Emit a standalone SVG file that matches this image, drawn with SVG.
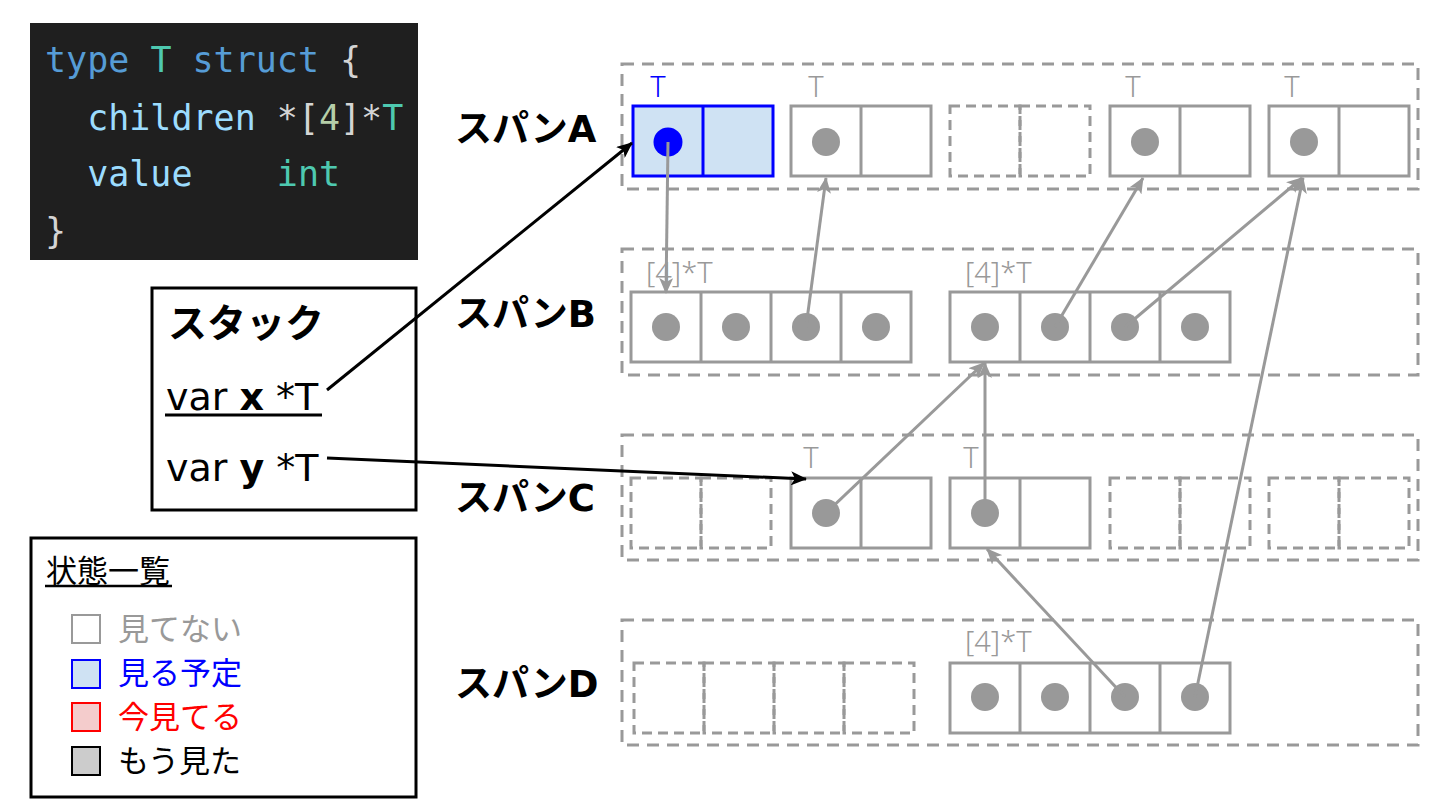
<svg xmlns="http://www.w3.org/2000/svg" width="1440" height="810" viewBox="0 0 1440 810">
<defs>
<style>
.code{font-family:"DejaVu Sans Mono","Liberation Mono",monospace;font-size:35px;white-space:pre}
.kw{fill:#569cd6}.ty{fill:#4ec9b0}.id{fill:#9cdcfe}.pn{fill:#d4d4d4}.nm{fill:#b5cea8}
.span{fill:none;stroke:#999;stroke-width:3;stroke-dasharray:12 8}
.cell{fill:#fff;stroke:#999;stroke-width:3}
.ecell{fill:none;stroke:#999;stroke-width:3;stroke-dasharray:10 6}
.dot{fill:#999}
.lbl{font-family:"Noto Sans","DejaVu Sans",sans-serif;font-weight:300;font-size:29px;fill:#999}
.sl{font-family:"DejaVu Sans","Noto Sans CJK JP",sans-serif;font-weight:bold;font-size:37px;fill:#000}
.st{font-family:"DejaVu Sans","Noto Sans CJK JP",sans-serif;font-size:38px;fill:#000}
.lg{font-family:"Noto Sans CJK JP",sans-serif;font-size:31px}
.ga{fill:none;stroke:#999;stroke-width:3;marker-end:url(#ag)}
.ba{fill:none;stroke:#000;stroke-width:3;marker-end:url(#ab)}
</style>
<marker id="ag" viewBox="0 0 16 14" refX="15" refY="7" markerWidth="16" markerHeight="14" markerUnits="userSpaceOnUse" orient="auto"><path d="M0,0 L16,7 L0,14 L4,7 z" fill="#999"/></marker>
<marker id="ab" viewBox="0 0 16 14" refX="15" refY="7" markerWidth="16" markerHeight="14" markerUnits="userSpaceOnUse" orient="auto"><path d="M0,0 L16,7 L0,14 L4,7 z" fill="#000"/></marker>
</defs>
<rect width="1440" height="810" fill="#fff"/>

<g id="code">
<rect x="30" y="23" width="388" height="237" fill="#1f1f1f"/>
<text class="code" x="45" y="72"><tspan class="kw">type</tspan> <tspan class="ty">T</tspan> <tspan class="kw">struct</tspan> <tspan class="pn">{</tspan></text>
<text class="code" x="45" y="130">  <tspan class="id">children</tspan> <tspan class="pn">*[</tspan><tspan class="nm">4</tspan><tspan class="pn">]*</tspan><tspan class="ty">T</tspan></text>
<text class="code" x="45" y="186">  <tspan class="id">value</tspan>    <tspan class="ty">int</tspan></text>
<text class="code pn" x="45" y="243">}</text>
</g>

<g id="stack">
<rect x="152" y="288" width="264" height="222" fill="#fff" stroke="#000" stroke-width="3"/>
<text class="sl" x="168" y="337" style="font-size:39px">スタック</text>
<text class="st" x="166" y="410">var <tspan font-weight="bold">x</tspan> *T</text>
<line x1="165" y1="415" x2="322" y2="415" stroke="#000" stroke-width="3"/>
<text class="st" x="166" y="481">var <tspan font-weight="bold">y</tspan> *T</text>
</g>

<g id="legend">
<rect x="31" y="538" width="385" height="259" fill="#fff" stroke="#000" stroke-width="3"/>
<text class="lg" x="46" y="582" fill="#000">状態一覧</text>
<line x1="45" y1="586" x2="172" y2="586" stroke="#000" stroke-width="2.5"/>
<rect x="72" y="615" width="28" height="28" fill="#fff" stroke="#999" stroke-width="2"/>
<text class="lg" x="118" y="640" fill="#999">見てない</text>
<rect x="72" y="660" width="28" height="28" fill="#cfe2f3" stroke="#0000ff" stroke-width="2"/>
<text class="lg" x="118" y="684" fill="#0000ff">見る予定</text>
<rect x="72" y="703" width="28" height="28" fill="#f4cccc" stroke="#ff0000" stroke-width="2"/>
<text class="lg" x="118" y="728" fill="#ff0000">今見てる</text>
<rect x="72" y="747" width="28" height="28" fill="#cccccc" stroke="#000" stroke-width="2"/>
<text class="lg" x="118" y="772" fill="#000">もう見た</text>
</g>

<g id="spanA">
<rect class="span" x="622" y="64" width="796" height="125"/>
<text class="sl" x="455" y="142">スパンA</text>
<text class="lbl" x="658" y="97" text-anchor="middle" style="fill:#0000ff">T</text>
<rect x="633" y="106" width="140" height="70" fill="#cfe2f3" stroke="#0000ff" stroke-width="3"/>
<line x1="703" y1="106" x2="703" y2="176" stroke="#0000ff" stroke-width="3"/>
<circle cx="668" cy="142" r="14.5" fill="#0000ff"/>
<text class="lbl" x="816" y="97" text-anchor="middle">T</text>
<rect class="cell" x="791" y="106" width="140" height="70"/>
<line x1="861" y1="106" x2="861" y2="176" stroke="#999" stroke-width="3"/>
<circle class="dot" cx="826" cy="142" r="14"/>
<rect class="ecell" x="950" y="106" width="70" height="70"/>
<rect class="ecell" x="1020" y="106" width="70" height="70"/>
<text class="lbl" x="1133" y="97" text-anchor="middle">T</text>
<rect class="cell" x="1110" y="106" width="140" height="70"/>
<line x1="1180" y1="106" x2="1180" y2="176" stroke="#999" stroke-width="3"/>
<circle class="dot" cx="1145" cy="142" r="14"/>
<text class="lbl" x="1292" y="97" text-anchor="middle">T</text>
<rect class="cell" x="1269" y="106" width="140" height="70"/>
<line x1="1339" y1="106" x2="1339" y2="176" stroke="#999" stroke-width="3"/>
<circle class="dot" cx="1304" cy="142" r="14"/>
</g>

<g id="spanB">
<rect class="span" x="622" y="249" width="796" height="126"/>
<text class="sl" x="455" y="327">スパンB</text>
<text class="lbl" x="646" y="283">[4]*T</text>
<rect class="cell" x="631" y="292" width="280" height="70"/>
<line x1="701" y1="292" x2="701" y2="362" stroke="#999" stroke-width="3"/>
<line x1="771" y1="292" x2="771" y2="362" stroke="#999" stroke-width="3"/>
<line x1="841" y1="292" x2="841" y2="362" stroke="#999" stroke-width="3"/>
<circle class="dot" cx="666" cy="327" r="14"/>
<circle class="dot" cx="736" cy="327" r="14"/>
<circle class="dot" cx="806" cy="327" r="14"/>
<circle class="dot" cx="876" cy="327" r="14"/>
<text class="lbl" x="965" y="283">[4]*T</text>
<rect class="cell" x="950" y="292" width="280" height="70"/>
<line x1="1020" y1="292" x2="1020" y2="362" stroke="#999" stroke-width="3"/>
<line x1="1090" y1="292" x2="1090" y2="362" stroke="#999" stroke-width="3"/>
<line x1="1160" y1="292" x2="1160" y2="362" stroke="#999" stroke-width="3"/>
<circle class="dot" cx="985" cy="327" r="14"/>
<circle class="dot" cx="1055" cy="327" r="14"/>
<circle class="dot" cx="1125" cy="327" r="14"/>
<circle class="dot" cx="1195" cy="327" r="14"/>
</g>

<g id="spanC">
<rect class="span" x="622" y="435" width="796" height="125"/>
<text class="sl" x="455" y="511">スパンC</text>
<rect class="ecell" x="631" y="478" width="70" height="70"/>
<rect class="ecell" x="701" y="478" width="70" height="70"/>
<text class="lbl" x="811" y="468" text-anchor="middle">T</text>
<rect class="cell" x="791" y="478" width="140" height="70"/>
<line x1="861" y1="478" x2="861" y2="548" stroke="#999" stroke-width="3"/>
<circle class="dot" cx="826" cy="513" r="14"/>
<text class="lbl" x="971" y="468" text-anchor="middle">T</text>
<rect class="cell" x="950" y="478" width="140" height="70"/>
<line x1="1020" y1="478" x2="1020" y2="548" stroke="#999" stroke-width="3"/>
<circle class="dot" cx="985" cy="513" r="14"/>
<rect class="ecell" x="1110" y="478" width="70" height="70"/>
<rect class="ecell" x="1180" y="478" width="70" height="70"/>
<rect class="ecell" x="1269" y="478" width="70" height="70"/>
<rect class="ecell" x="1339" y="478" width="70" height="70"/>
</g>

<g id="spanD">
<rect class="span" x="622" y="620" width="796" height="125"/>
<text class="sl" x="455" y="697">スパンD</text>
<rect class="ecell" x="634" y="663" width="70" height="70"/>
<rect class="ecell" x="704" y="663" width="70" height="70"/>
<rect class="ecell" x="774" y="663" width="70" height="70"/>
<rect class="ecell" x="844" y="663" width="70" height="70"/>
<text class="lbl" x="965" y="652">[4]*T</text>
<rect class="cell" x="950" y="663" width="280" height="70"/>
<line x1="1020" y1="663" x2="1020" y2="733" stroke="#999" stroke-width="3"/>
<line x1="1090" y1="663" x2="1090" y2="733" stroke="#999" stroke-width="3"/>
<line x1="1160" y1="663" x2="1160" y2="733" stroke="#999" stroke-width="3"/>
<circle class="dot" cx="985" cy="697" r="14"/>
<circle class="dot" cx="1055" cy="697" r="14"/>
<circle class="dot" cx="1125" cy="697" r="14"/>
<circle class="dot" cx="1195" cy="697" r="14"/>
</g>

<g id="connectors">
<line class="ba" x1="327" y1="390" x2="632" y2="143"/>
<line class="ba" x1="327" y1="458" x2="806" y2="479"/>
<line class="ga" x1="668" y1="142" x2="666" y2="293"/>
<line class="ga" x1="806" y1="327" x2="826" y2="178"/>
<line class="ga" x1="1055" y1="327" x2="1143" y2="178"/>
<line class="ga" x1="1125" y1="327" x2="1302" y2="178"/>
<line class="ga" x1="826" y1="513" x2="984" y2="363"/>
<line class="ga" x1="985" y1="513" x2="985" y2="363"/>
<line class="ga" x1="1125" y1="697" x2="987" y2="549"/>
<line class="ga" x1="1195" y1="697" x2="1303" y2="178"/>
</g>
</svg>
